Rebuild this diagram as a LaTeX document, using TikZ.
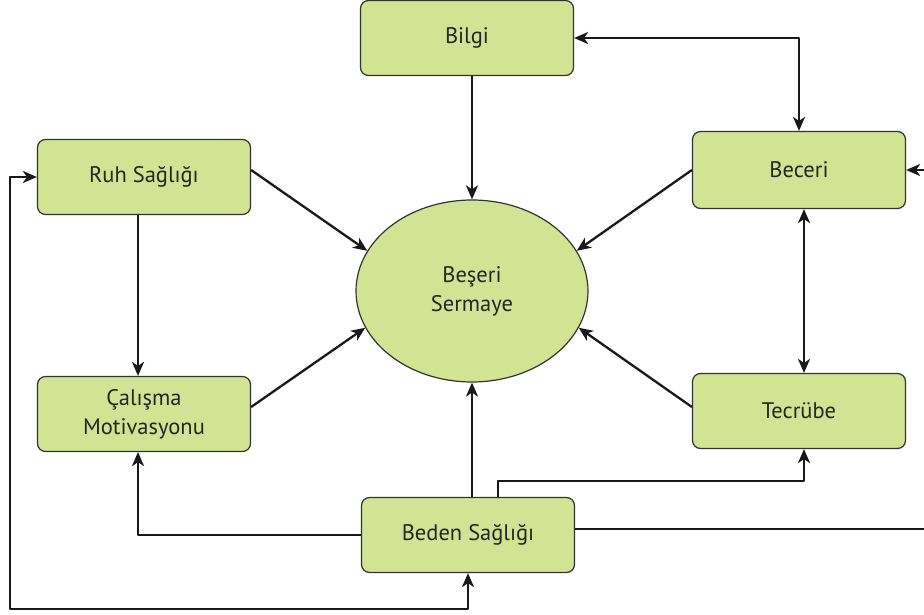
\documentclass[tikz,border=0pt]{standalone}
\usepackage{fontspec}
\setmainfont{PT Sans}
\usetikzlibrary{arrows.meta,shapes.geometric}

\definecolor{boxgreen}{RGB}{210,227,147}
\definecolor{boxline}{RGB}{50,50,50}
\tikzset{
    kutu/.style={draw=boxline, line width=1.2pt, fill=boxgreen, rounded corners=8pt,
        minimum width=213pt, minimum height=75pt, align=center,
        font=\fontsize{22.5}{29}\selectfont, text=black!85},
    ok/.style={line width=2.3pt, draw=black!90, -{Stealth[length=14pt,width=12pt,inset=4pt]}},
    cift/.style={line width=2.3pt, draw=black!90, {Stealth[length=14pt,width=12pt,inset=4pt]}-{Stealth[length=14pt,width=12pt,inset=4pt]}},
    duz/.style={line width=2.3pt, draw=black!90}
}

\begin{document}
\begin{tikzpicture}[x=1pt, y=-1pt, line join = round]
\useasboundingbox (0,0) rectangle (924,615);

\node[kutu] (bilgi) at (467,38) {Bilgi};
\node[kutu, minimum height=77pt] (beceri) at (799,170) {Beceri};
\node[kutu] (ruh) at (144,177) {Ruh Sağlığı};
\node[kutu] (calisma) at (144,414) {Çalışma\\Motivasyonu};
\node[kutu] (tecrube) at (799,411) {Tecrübe};
\node[kutu] (beden) at (468,535) {Beden Sağlığı};
\node[kutu, ellipse, rounded corners=0pt, minimum width=232pt, minimum height=182pt] (bs) at (472,291) {Beşeri\\Sermaye};

\coordinate (sag1) at (924,170);
\coordinate (sag2) at (924,529);
\coordinate (alt) at (10,609);

% beseri sermayeye gelenler
\draw[ok] (bilgi.south -| bs.north)--(bs.north);
\draw[ok] (beden.north -| bs.south)--(bs.south);
\draw[ok] ([yshift=7pt]ruh.east)--(bs.159);
\draw[ok] (beceri.west)--(bs.21);
\draw[ok] ([yshift=7pt]calisma.east)--(bs.199);
\draw[ok] ([yshift=4pt]tecrube.west)--(bs.341);

\draw[cift] (bilgi.east)-|(beceri.north);
\draw[cift] ([xshift=5pt]beceri.south)--([xshift=5pt]tecrube.north);
\draw[ok] ([xshift=-6pt]ruh.south)--([xshift=-6pt]calisma.north);
\draw[ok] (beden.west)-|([xshift=-6pt]calisma.south);
\draw[ok] ([xshift=30pt]beden.north)--++(0,-16)-|([xshift=5pt]tecrube.south);
\draw[duz] ([yshift=6pt]beden.east)--(sag2);
\draw[ok] (sag1)--(beceri.east);
\draw[cift] (ruh.west)-|(alt)-|(beden.south);
\end{tikzpicture}
\end{document}
